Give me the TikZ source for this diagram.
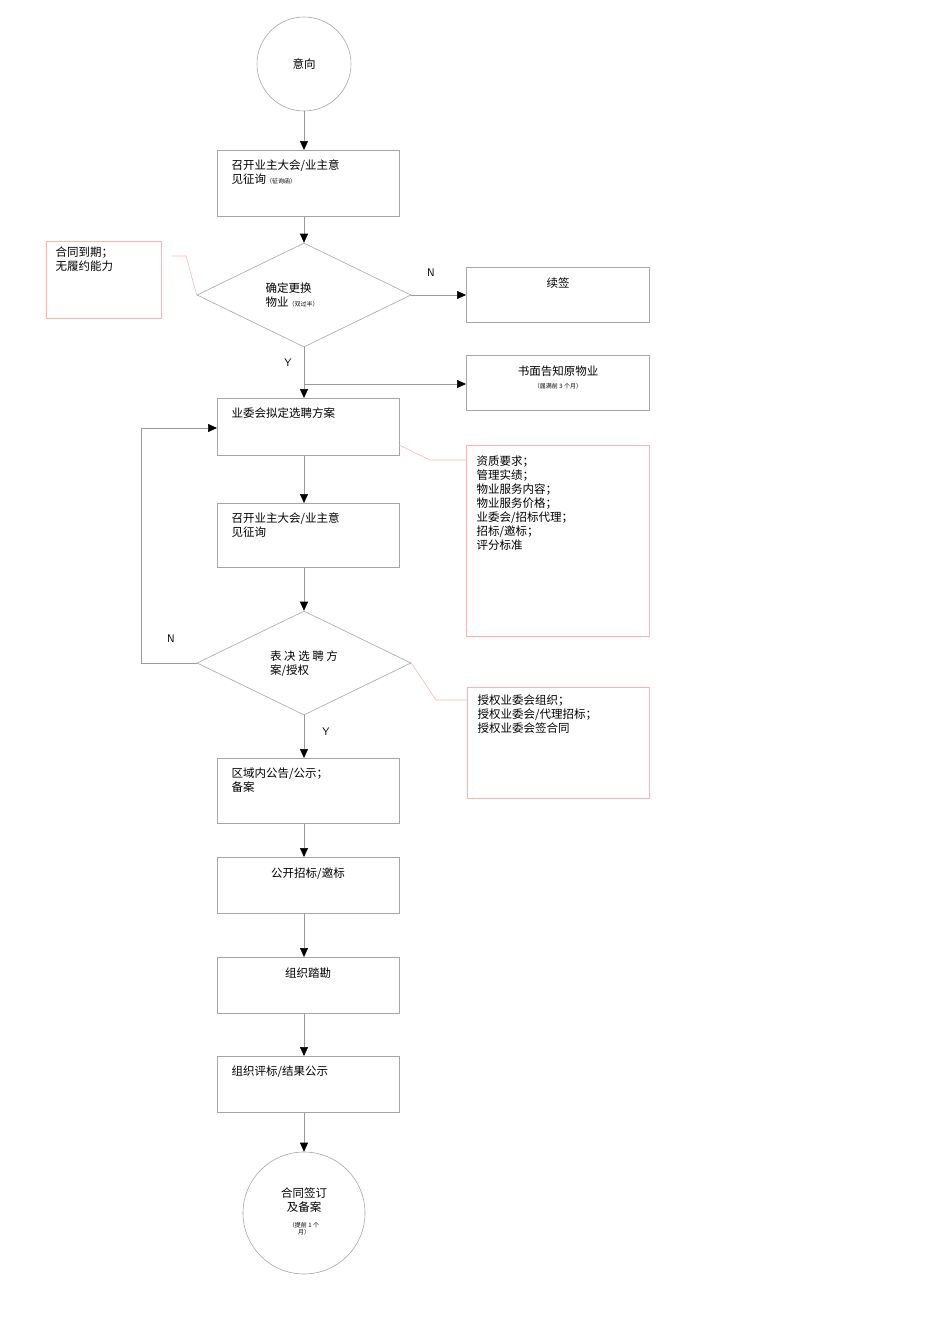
\documentclass[tikz,border=0pt]{standalone}
\usepackage{fontspec}
\setmainfont{Noto Sans CJK SC}
\usetikzlibrary{shapes.geometric,arrows.meta}
\begin{document}
\begin{tikzpicture}[x=1pt,y=-1pt,
 every node/.style={font=\fontsize{11.5}{14}\selectfont},
 boxs/.style={draw=gray!70,line width=0.6pt,minimum width=182pt,anchor=north west,inner sep=0},
 note/.style={draw=red!30,line width=0.6pt,anchor=north west,inner sep=0},
 dia/.style={draw=gray!70,line width=0.6pt,diamond,aspect=2.06,minimum width=214pt,minimum height=104pt,inner sep=0},
 circ/.style={draw=gray!70,line width=0.6pt,circle,inner sep=0},
 ln/.style={draw=gray!80,line width=0.6pt},
 ar/.style={ln,-{Triangle[length=9pt,width=8pt,black]}},
 pk/.style={draw=red!30,line width=0.6pt},
 sm/.style={font=\fontsize{6}{7}\selectfont},
 lab/.style={font=\sffamily\fontsize{11}{13}\selectfont}]
\useasboundingbox (0,0) rectangle (950,1344);
\node[circ,minimum size=94pt] (c1) at (304,64) {};
\node at (304,64) {意向};
\node[boxs,minimum height=66pt] (b1) at (217,150) {};
\node[anchor=north west,align=left] at (228,156) {召开业主大会/业主意\\见征询{\fontsize{6}{7}\selectfont（征询函）}};
\node[dia] (d1) at (304,295) {};
\node[align=left] at (292,295) {确定更换\\物业{\fontsize{6}{7}\selectfont（双过半）}};
\node[boxs,minimum width=183pt,minimum height=55pt] (r1) at (466,267) {};
\node at (558,283) {续签};
\node[note,minimum width=115pt,minimum height=77pt] (n1) at (46,241) {};
\node[anchor=north west,align=left] at (52,243) {合同到期；\\无履约能力};
\coordinate (p1) at (172,256);\coordinate (p2) at (186,256);
\draw[pk] (p1)--(p2)--(d1.west);
\node[boxs,minimum width=183pt,minimum height=55pt] (r2) at (466,355) {};
\node at (558,371) {书面告知原物业};
\node[sm] at (558,386) {（届满前 3 个月）};
\node[boxs,minimum height=57pt] (b2) at (217,398) {};
\node[anchor=north west] at (228,404) {业委会拟定选聘方案};
\node[note,minimum width=183pt,minimum height=191pt] (n2) at (466,445) {};
\node[anchor=north west,align=left] at (473,452) {资质要求；\\管理实绩；\\物业服务内容；\\物业服务价格；\\业委会/招标代理；\\招标/邀标；\\评分标准};
\coordinate (q1) at (430,460);
\draw[pk] (399,445)--(q1)--(466,460);
\node[boxs,minimum height=64pt] (b3) at (217,503) {};
\node[anchor=north west,align=left] at (228,509) {召开业主大会/业主意\\见征询};
\node[dia] (d2) at (304,663) {};
\node[align=left] at (304,664) {表 决 选 聘 方\\案/授权};
\node[note,minimum width=182pt,minimum height=111pt] (n3) at (467,687) {};
\node[anchor=north west,align=left] at (474,691) {授权业委会组织；\\授权业委会/代理招标；\\授权业委会签合同};
\coordinate (q2) at (436,700);
\draw[pk] (d2.east)--(q2)--(467,700);
\node[boxs,minimum height=65pt] (b4) at (217,758) {};
\node[anchor=north west,align=left] at (228,764) {区域内公告/公示；\\备案};
\node[boxs,minimum height=56pt] (b5) at (217,857) {};
\node at (308,874) {公开招标/邀标};
\node[boxs,minimum height=56pt] (b6) at (217,957) {};
\node at (308,973) {组织踏勘};
\node[boxs,minimum height=56pt] (b7) at (217,1056) {};
\node[anchor=north west] at (228,1062) {组织评标/结果公示};
\node[circ,minimum size=122pt] (c2) at (304,1213) {};
\node[align=center] at (304,1200) {合同签订\\及备案};
\node[sm,align=center] at (304,1229) {（提前 1 个\\月）};
% connectors
\draw[ar] (c1.south)--(b1.north-|c1.south);
\draw[ar] (b1.south-|d1.north)--(d1.north);
\draw[ar] (d1.east)--(r1.west|-d1.east);
\node[lab] at (431,273) {N};
\draw[ar] (d1.south)--(b2.north-|d1.south);
\coordinate (j1) at (304,384);
\draw[ar] (j1)--(r2.west|-j1);
\node[lab] at (288,363) {Y};
\draw[ar] (b2.south-|d1.south)--(b3.north-|d1.south);
\draw[ar] (b3.south-|d2.north)--(d2.north);
\coordinate (k1) at (141,663);\coordinate (k2) at (141,428);
\draw[ar] (d2.west)--(k1)--(k2)--(b2.west|-k2);
\node[lab] at (171,639) {N};
\draw[ar] (d2.south)--(b4.north-|d2.south);
\node[lab] at (326,732) {Y};
\draw[ar] (b4.south-|d2.south)--(b5.north-|d2.south);
\draw[ar] (b5.south-|d2.south)--(b6.north-|d2.south);
\draw[ar] (b6.south-|d2.south)--(b7.north-|d2.south);
\draw[ar] (b7.south-|d2.south)--(c2.north);
\end{tikzpicture}
\end{document}
